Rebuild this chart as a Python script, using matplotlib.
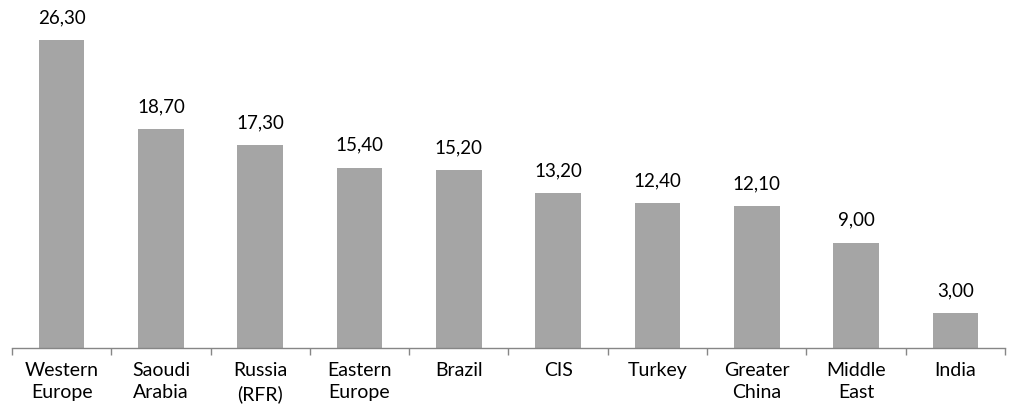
import matplotlib
matplotlib.use("Agg")
import matplotlib.pyplot as plt
import numpy as np

plt.rcParams['font.family'] = ['Lato', 'DejaVu Sans']

regions = ["Western\nEurope", "Saoudi\nArabia", "Russia\n(RFR)", "Eastern\nEurope", "Brazil",
           "CIS", "Turkey", "Greater\nChina", "Middle\nEast", "India"]
values = [26.30, 18.70, 17.30, 15.40, 15.20, 13.20, 12.40, 12.10, 9.00, 3.00]

fig = plt.figure(figsize=(10.12, 4.12), dpi=100)
ax = fig.add_axes([12 / 1012, 64 / 412, 993 / 1012, 348 / 412])

x = np.arange(len(values))
bars = ax.bar(x, values, width=0.46, color="#A5A5A5")

for xi, v in zip(x, values):
    ax.annotate(f"{v:.2f}".replace(".", ","), (xi, v), xytext=(0, 10),
                textcoords="offset points", ha="center", va="bottom",
                fontsize=13.5, color="black")

ax.set_xlim(-0.5, len(values) - 0.5)
ax.set_ylim(0, 29.72)

# ticks sit between categories, labels stay centred under bars
ax.set_xticks(np.arange(len(values) + 1) - 0.5)
ax.set_xticklabels([])
ax.set_xticks(x, minor=True)
ax.set_xticklabels(regions, minor=True, fontsize=14, linespacing=1.4)
ax.tick_params(axis="x", which="major", length=5, width=1, color="#868686", direction="out")
ax.tick_params(axis="x", which="minor", length=0, pad=10)

ax.set_yticks([])
for side in ["top", "right", "left"]:
    ax.spines[side].set_visible(False)
ax.spines["bottom"].set_color("#868686")
ax.spines["bottom"].set_linewidth(1)

fig.savefig("out.png", dpi=100)
